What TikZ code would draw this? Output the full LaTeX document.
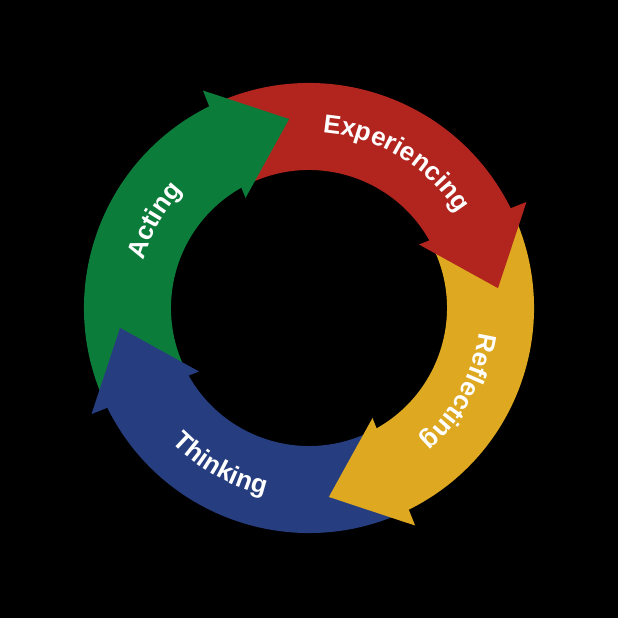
\documentclass[tikz,border=0pt]{standalone}
\usepackage{fontspec}
\setmainfont{Liberation Sans}
\usepackage{tikz}
\usetikzlibrary{decorations.text}
\definecolor{cyclegreen}{RGB}{12,124,58}
\definecolor{cyclered}{RGB}{178,36,30}
\definecolor{cycleyellow}{RGB}{222,168,32}
\definecolor{cycleblue}{RGB}{38,62,128}
\newcommand{\ringfont}{\fontsize{26}{30}\selectfont\bfseries}
\tikzset{
  ringlabel/.style={decorate,decoration={text along path,text align=center,
    text color=white,text={|\ringfont|#1}}}
}

\begin{document}
\begin{tikzpicture}[x=1pt,y=1pt]
  \fill[black] (-309,-310) rectangle (309,308);

  % bands of the ring, tail to head base
  \foreach \col/\tip in {cyclegreen/96,cyclered/6,cycleyellow/-84,cycleblue/-174}{
    \fill[\col] ({\tip+20}:225) arc[start angle=\tip+20,end angle=\tip+110,radius=225]
      -- ({\tip+110}:138) arc[start angle=\tip+110,end angle=\tip+20,radius=138] -- cycle;
  }
  % arrow heads on top
  \foreach \col/\tip in {cyclegreen/96,cyclered/6,cycleyellow/-84,cycleblue/-174}{
    \fill[\col] ({\tip+20}:242) -- (\tip:190) -- ({\tip+24}:127) -- cycle;
  }

  \path[ringlabel=Experiencing] (90:176) arc[start angle=90,end angle=28,radius=176];
  \path[ringlabel=Reflecting] (0:172) arc[start angle=0,end angle=-58,radius=172];
  \path[ringlabel=Thinking] (215:192) arc[start angle=215,end angle=266,radius=192];
  \path[ringlabel=Acting] (175:172) arc[start angle=175,end angle=126,radius=172];
\end{tikzpicture}
\end{document}
